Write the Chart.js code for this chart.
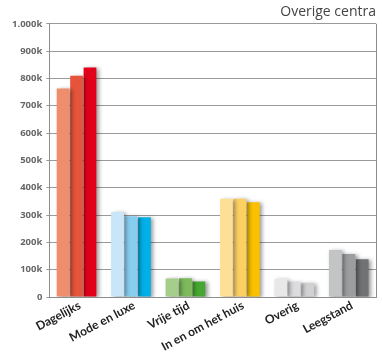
<!DOCTYPE html>
<html>
<head>
<meta charset="utf-8">
<script src="https://cdn.jsdelivr.net/npm/chart.js@4/dist/chart.umd.min.js"></script>
<style>
  html, body { margin: 0; padding: 0; background: #fff; }
  #wrap { width: 382px; height: 358px; }
</style>
</head>
<body>
<div id="wrap"><canvas id="c" width="382" height="358"></canvas></div>
<script>
// Winkelvloeroppervlak per branchegroep (x 1.000 m²), drie meetmomenten
const categories = ['Dagelijks', 'Mode en luxe', 'Vrije tijd', 'In en om het huis', 'Overig', 'Leegstand'];
const series1 = [763, 311, 68, 360, 66, 172];
const series2 = [810, 296, 69, 360, 56, 157];
const series3 = [840, 292, 57, 347, 51, 138];
const yTickLabels = ['0', '100k', '200k', '300k', '400k', '500k', '600k', '700k', '800k', '900k', '1.000k'];
const chartTitle = 'Overige centra';

// Per branchegroep een eigen kleurfamilie, van licht naar donker
const shade1 = ['#EF8D6C', '#C8E6F7', '#A5CE8A', '#FDE095', '#E8E8E9', '#C3C4C6'];
const shade2 = ['#E6553B', '#86CDEF', '#7CBA5B', '#FDD064', '#DCDCDE', '#9C9D9F'];
const shade3 = ['#E2001A', '#00B0E6', '#45A630', '#FBC100', '#D1D1D3', '#717274'];

const LABEL_ANGLE = 28 * Math.PI / 180;

const barShadow = {
  id: 'barShadow',
  beforeDatasetsDraw(chart) {
    const ctx = chart.ctx;
    ctx.save();
    ctx.shadowColor = 'rgba(0,0,0,0.4)';
    ctx.shadowBlur = 4;
    ctx.shadowOffsetX = 2.5;
    ctx.shadowOffsetY = 1;
  },
  afterDatasetsDraw(chart) {
    chart.ctx.restore();
  }
};

// Right edge of the plot box plus slanted category labels placed at the x-scale ticks
const frameAndLabels = {
  id: 'frameAndLabels',
  afterDraw(chart) {
    const { ctx, chartArea: a } = chart;
    const xs = chart.scales.x;
    ctx.save();
    ctx.strokeStyle = '#8c8c8c';
    ctx.lineWidth = 1;
    ctx.beginPath();
    ctx.moveTo(Math.round(a.right) + 0.5, a.top);
    ctx.lineTo(Math.round(a.right) + 0.5, a.bottom);
    ctx.stroke();

    ctx.fillStyle = '#222';
    ctx.font = 'bold 12px Lato';
    ctx.textAlign = 'right';
    ctx.textBaseline = 'alphabetic';
    categories.forEach((label, i) => {
      const x = xs.getPixelForTick(i);
      ctx.save();
      ctx.translate(x + 5, a.bottom + 11);
      ctx.rotate(-LABEL_ANGLE);
      ctx.fillText(label, 0, 0);
      ctx.restore();
    });
    ctx.restore();
  }
};

const mkSet = (data, colors) => ({
  data,
  backgroundColor: colors,
  borderWidth: 0,
  categoryPercentage: 0.74,
  barPercentage: 0.95
});

new Chart(document.getElementById('c'), {
  type: 'bar',
  data: {
    labels: categories,
    datasets: [mkSet(series1, shade1), mkSet(series2, shade2), mkSet(series3, shade3)]
  },
  options: {
    responsive: false,
    animation: false,
    devicePixelRatio: 1,
    layout: { padding: { left: 8, right: 6, top: 2, bottom: 53 } },
    plugins: {
      legend: { display: false },
      tooltip: { enabled: false },
      title: {
        display: true,
        text: chartTitle,
        align: 'end',
        color: '#444',
        font: { family: 'Open Sans', size: 14, weight: 'normal' },
        padding: { top: 2, bottom: 3 }
      }
    },
    scales: {
      x: {
        grid: { display: false },
        border: { color: '#8c8c8c', width: 1 },
        ticks: { display: false, autoSkip: false }
      },
      y: {
        min: 0,
        max: 1000,
        grid: { color: '#9a9a9a', lineWidth: 1, drawTicks: true, tickLength: 3 },
        border: { color: '#8c8c8c', width: 1 },
        ticks: {
          stepSize: 100,
          color: '#666',
          padding: 4,
          font: { family: 'Open Sans', size: 9.5, weight: 'bold' },
          callback: (v, i) => yTickLabels[i]
        }
      }
    }
  },
  plugins: [barShadow, frameAndLabels]
});
</script>
</body>
</html>
